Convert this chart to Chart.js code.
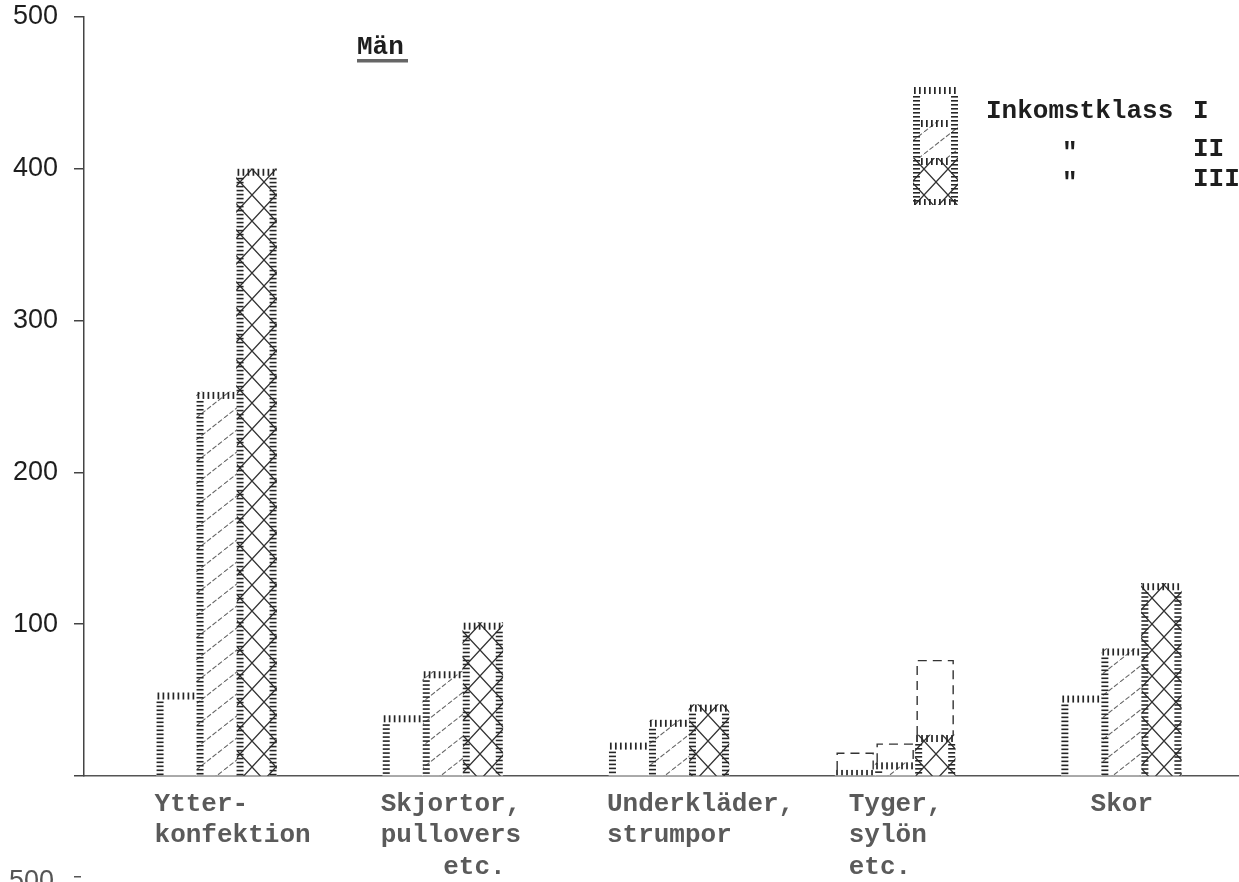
<!DOCTYPE html>
<html><head><meta charset="utf-8">
<script src="https://cdn.jsdelivr.net/npm/chart.js@4.4.1/dist/chart.umd.min.js"></script>
<style>html,body{margin:0;padding:0;background:#fff;}#wrap{width:1239px;height:882px;position:relative;}</style>
</head><body><div id="wrap"><canvas id="c" width="1239" height="882"></canvas></div>
<script>
// ---- data ----
const categories = ["Ytter-konfektion", "Skjortor, pullovers etc.", "Underkläder, strumpor", "Tyger, sylön etc.", "Skor"];
const tickLabels = [
  ["Ytter-", "konfektion"],
  ["Skjortor,", "pullovers", "    etc."],
  ["Underkläder,", "strumpor"],
  [" Tyger,", " sylön", " etc."],
  ["  Skor"]
];
const seriesNames = ["Inkomstklass I", "Inkomstklass II", "Inkomstklass III"];
const classI   = [55, 40, 22, 4, 53];
const classII  = [253, 69, 37, 9, 84];
const classIII = [400, 101, 47, 27, 127];
// dashed extensions (Tyger, sylön etc. only)
const extraI   = [null, null, null, 11, null];
const extraII  = [null, null, null, 12, null];
const extraIII = [null, null, null, 49, null];
const yTicks = [100, 200, 300, 400, 500];

// ---- patterns ----
function makeTile(w, h, draw) {
  const c = document.createElement('canvas'); c.width = w; c.height = h;
  const g = c.getContext('2d'); g.fillStyle = '#fff'; g.fillRect(0, 0, w, h); draw(g, w, h);
  return document.getElementById('c').getContext('2d').createPattern(c, 'repeat');
}
const patDiag = makeTile(28, 22, (g, w, h) => {
  g.strokeStyle = '#666'; g.lineWidth = 1.1; g.setLineDash([5, 2]);
  g.beginPath(); g.moveTo(0, h); g.lineTo(w, 0); g.stroke();
});
const patCross = makeTile(24, 26, (g, w, h) => {
  g.strokeStyle = '#333'; g.lineWidth = 1.3;
  g.beginPath(); g.moveTo(0, 0); g.lineTo(w, h); g.moveTo(0, h); g.lineTo(w, 0); g.stroke();
});
const fills = ['#ffffff', patDiag, patCross];

// ---- drawing helpers ----
const INK = '#262626';
function sideLadder(ctx, x0, t, b) {
  for (let y = t + 3; y < b - 1; y += 4) ctx.fillRect(x0, y, 7, 1.6);
}
function topLadder(ctx, l, r, t, b) {
  const hgt = Math.min(7, b - t);
  for (let x = l + 1; x < r - 1; x += 5) ctx.fillRect(x, t, 1.7, hgt);
}
function ladderBox(ctx, l, r, t, b, right) {
  ctx.fillStyle = INK;
  sideLadder(ctx, l, t + 6, b);
  if (right) sideLadder(ctx, r - 7, t + 6, b);
  topLadder(ctx, l, r, t, b);
}

const decor = {
  id: 'decor',
  afterDatasetsDraw(chart) {
    const ctx = chart.ctx;
    ctx.save();
    chart.data.datasets.forEach((ds, di) => {
      const meta = chart.getDatasetMeta(di);
      meta.data.forEach((el, i) => {
        if (ds.data[i] == null) return;
        const p = el.getProps(['x', 'y', 'base', 'width'], true);
        const l = p.x - p.width / 2, r = p.x + p.width / 2;
        const t = Math.min(p.y, p.base), b = Math.max(p.y, p.base);
        if (ds.dashed) {
          ctx.strokeStyle = '#333'; ctx.lineWidth = 1.4; ctx.setLineDash([9, 6]);
          ctx.beginPath(); ctx.moveTo(l + 2, b); ctx.lineTo(l + 2, t); ctx.lineTo(r - 2, t); ctx.lineTo(r - 2, b); ctx.stroke();
          ctx.setLineDash([]);
        } else {
          ladderBox(ctx, l, r, t, b, ds.cls === 2);
        }
      });
    });
    ctx.restore();
  },
  afterDraw(chart) {
    const ctx = chart.ctx;
    ctx.save();
    // title
    ctx.fillStyle = '#1e1e1e';
    ctx.font = 'bold 26px "Liberation Mono"';
    ctx.textBaseline = 'alphabetic';
    ctx.fillText('Män', 357, 54);
    ctx.fillStyle = '#666';
    ctx.fillRect(357, 59, 51, 3.5);
    // legend sample box
    const L = 913, R = 958, T = 87, B = 205, s1 = 120, s2 = 158;
    ctx.fillStyle = fills[0]; ctx.fillRect(L, T, R - L, s1 - T);
    ctx.fillStyle = fills[1]; ctx.fillRect(L, s1, R - L, s2 - s1);
    ctx.fillStyle = fills[2]; ctx.fillRect(L, s2, R - L, B - s2);
    ctx.fillStyle = INK;
    sideLadder(ctx, L, T + 6, B); sideLadder(ctx, R - 7, T + 6, B);
    topLadder(ctx, L, R, T, B); topLadder(ctx, L + 7, R - 7, s1, B); topLadder(ctx, L + 7, R - 7, s2, B);
    topLadder(ctx, L, R, B - 6, B);
    // legend text
    ctx.fillStyle = '#1e1e1e';
    ctx.font = 'bold 26px "Liberation Mono"';
    ctx.fillText('Inkomstklass', 986, 118);
    ctx.fillText('I', 1193, 118);
    ctx.fillText('"', 1062, 160);
    ctx.fillText('II', 1193, 156);
    ctx.fillText('"', 1062, 190);
    ctx.fillText('III', 1193, 186);
    // fragment of the next chart at the bottom
    ctx.fillStyle = '#555';
    ctx.font = '27px "Liberation Sans"';
    ctx.fillText('500', 9, 889);
    ctx.fillRect(74, 876, 7, 1.5);
    ctx.restore();
  }
};

const idx = categories.map((_, i) => i);
const solid = [classI, classII, classIII];
const extra = [extraI, extraII, extraIII];
const datasets = [];
solid.forEach((d, k) => datasets.push({
  label: seriesNames[k], data: d, stack: 's' + k, cls: k,
  backgroundColor: fills[k], borderWidth: 0
}));
extra.forEach((d, k) => datasets.push({
  label: seriesNames[k] + ' (tillägg)', data: d, stack: 's' + k, cls: k, dashed: true,
  backgroundColor: 'rgba(0,0,0,0)', borderWidth: 0
}));

new Chart(document.getElementById('c'), {
  type: 'bar',
  data: { labels: idx, datasets },
  plugins: [decor],
  options: {
    responsive: false, animation: false, devicePixelRatio: 1,
    barThickness: 40,
    layout: { padding: { top: 17, left: 0, right: 0, bottom: 0 } },
    plugins: { legend: { display: false }, tooltip: { enabled: false } },
    scales: {
      x: {
        type: 'linear', min: -0.586, max: 4.52, stacked: true, offset: false,
        grid: { display: false, drawTicks: false },
        border: { display: true, color: '#555', width: 1.5 },
        afterBuildTicks: s => { s.ticks = idx.map(v => ({ value: v })); },
        afterFit: s => { s.height = 106; s.paddingLeft = 0; s.paddingRight = 0; },
        ticks: {
          align: 'start', labelOffset: -62, padding: 13, autoSkip: false, maxRotation: 0,
          font: { family: 'Liberation Mono', size: 26, weight: 'bold', lineHeight: 1.2 },
          color: '#5a5a5a',
          callback: v => tickLabels[v]
        }
      },
      y: {
        min: 0, max: 500, stacked: true,
        afterBuildTicks: s => { s.ticks = [0].concat(yTicks).map(v => ({ value: v })); },
        afterFit: s => { s.width = 84; s.paddingTop = 0; s.paddingBottom = 0; },
        ticks: {
          callback: v => (v === 0 ? '' : String(v)),
          font: { family: 'Liberation Sans', size: 27 }, color: '#1e1e1e', padding: 16
        },
        grid: { drawOnChartArea: false, drawTicks: true, tickLength: 10, color: '#444', lineWidth: 1.5 },
        border: { display: true, color: '#444', width: 1.5 }
      }
    }
  }
});
</script></body></html>
